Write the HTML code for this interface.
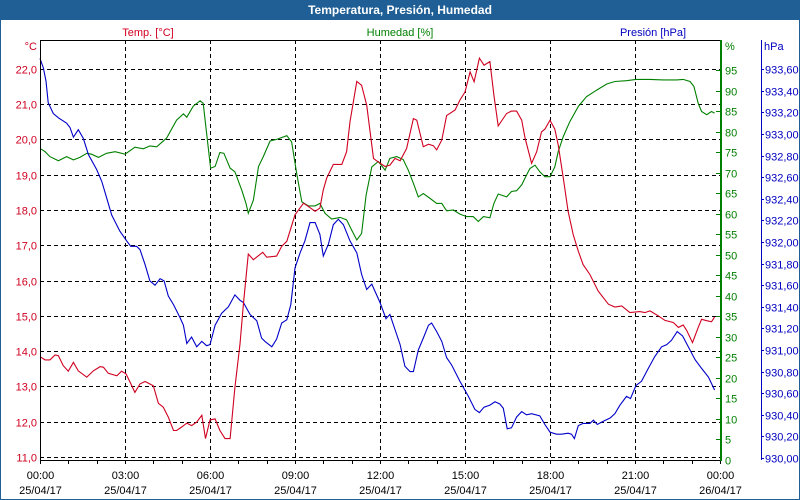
<!DOCTYPE html>
<html><head><meta charset="utf-8"><style>
html,body{margin:0;padding:0;background:#fff;}
#wrap{position:relative;width:800px;height:500px;overflow:hidden;font-family:"Liberation Sans",sans-serif;}
svg text{font-family:"Liberation Sans",sans-serif;font-size:11px;}
</style></head><body>
<div id="wrap">
<svg id="chart" width="800" height="500" viewBox="0 0 800 500">
<rect x="0" y="0" width="800" height="500" fill="#fff"/>
<rect x="0.5" y="0.5" width="799" height="499" fill="none" stroke="#1f5f95"/>
<rect x="0" y="0" width="800" height="20" fill="#1f5f95"/>
<text x="400" y="14" text-anchor="middle" fill="#fff" style="font-weight:bold;font-size:12px">Temperatura, Presión, Humedad</text>
<text x="148" y="36" text-anchor="middle" fill="#d00020">Temp. [°C]</text>
<text x="400" y="36" text-anchor="middle" fill="#008000">Humedad [%]</text>
<text x="653" y="36" text-anchor="middle" fill="#0000c0">Presión [hPa]</text>
<text x="37" y="50" text-anchor="end" fill="#d00020">°C</text>
<text x="725" y="50" fill="#008000">%</text>
<text x="764" y="50" fill="#0000c0">hPa</text>
<g id="grid"></g>
<g id="series"></g>
<g id="axes"></g>
</svg>
</div>
<script>
const tempT=[0,.18,.35,.53,.65,.82,1.0,1.18,1.35,1.65,1.88,2.12,2.24,2.41,2.71,2.88,3.04,3.18,3.35,3.53,3.71,4.0,4.18,4.35,4.53,4.71,4.82,5.0,5.18,5.35,5.53,5.71,5.84,6.0,6.18,6.35,6.53,6.71,6.76,6.88,7.06,7.18,7.35,7.53,7.86,8.0,8.35,8.53,8.71,9.0,9.3,9.47,9.71,9.88,10.0,10.12,10.35,10.65,10.82,10.94,11.18,11.35,11.53,11.77,11.88,12.18,12.35,12.53,12.71,12.94,13.18,13.3,13.53,13.71,13.88,14.0,14.18,14.35,14.65,14.82,15.0,15.18,15.32,15.51,15.67,15.88,16.02,16.17,16.47,16.64,16.82,17.0,17.12,17.35,17.53,17.7,17.82,18.0,18.17,18.29,18.47,18.64,18.82,19.0,19.17,19.41,19.7,20.06,20.29,20.53,20.82,21.17,21.35,21.53,21.82,22.06,22.35,22.53,22.7,22.82,23.03,23.23,23.35,23.53,23.7,23.81];
const tempV=[13.84,13.75,13.75,13.89,13.87,13.59,13.43,13.68,13.44,13.26,13.44,13.56,13.54,13.37,13.30,13.43,13.35,13.12,12.83,13.07,13.14,13.02,12.52,12.41,12.13,11.75,11.75,11.85,11.96,11.89,11.99,12.18,11.52,12.05,12.08,11.75,11.52,11.52,11.94,12.97,14.20,15.33,16.75,16.59,16.80,16.66,16.69,16.97,17.11,17.86,18.19,18.10,17.96,18.05,18.57,18.90,19.29,19.29,19.65,20.50,21.64,21.53,20.97,19.46,19.39,19.23,19.27,19.46,19.39,19.74,20.59,20.54,19.79,19.86,19.82,19.70,19.98,20.67,20.83,21.11,21.34,21.91,21.63,22.30,22.10,22.20,21.25,20.38,20.73,20.80,20.80,20.54,20.03,19.32,19.65,20.21,20.29,20.54,20.29,19.84,18.90,17.96,17.30,16.83,16.45,16.17,15.70,15.33,15.25,15.28,15.09,15.12,15.09,15.14,15.00,14.87,14.81,14.67,14.74,14.59,14.24,14.67,14.90,14.86,14.83,14.97];
const humT=[0,.18,.35,.65,.94,1.18,1.41,1.65,1.82,2.06,2.35,2.65,3.0,3.35,3.65,3.88,4.12,4.47,4.82,5.06,5.18,5.41,5.65,5.76,5.88,6.02,6.18,6.35,6.49,6.71,6.88,7.12,7.27,7.35,7.53,7.71,7.88,8.12,8.35,8.71,8.88,9.06,9.24,9.47,9.71,9.88,10.06,10.29,10.59,10.82,11.0,11.18,11.35,11.51,11.71,11.94,12.18,12.35,12.59,12.82,13.0,13.18,13.35,13.53,13.77,14.0,14.18,14.35,14.59,14.82,15.06,15.29,15.47,15.65,15.88,16.02,16.17,16.47,16.64,16.82,17.0,17.17,17.29,17.47,17.64,17.82,18.0,18.17,18.29,18.47,18.7,19.0,19.29,19.65,20.0,20.29,20.7,21.06,21.53,22.0,22.47,22.7,22.94,23.08,23.23,23.35,23.53,23.7,23.81];
const humV=[75.9,75.1,73.9,72.9,73.9,73.1,73.7,74.7,74.5,73.7,74.7,75.1,74.5,76.2,75.8,76.5,76.3,78.4,82.8,84.3,83.5,86.2,87.5,86.9,79.6,71.1,71.5,74.9,74.7,71.1,70.2,65.8,62.5,60.1,63.3,71.5,73.9,77.7,78.1,79.0,77.5,69.8,62.9,61.9,61.9,62.5,60.1,58.7,59.1,58.5,56.0,53.6,55.2,64.5,71.4,72.7,70.6,73.5,73.9,73.2,70.6,67.4,64.1,64.9,63.7,62.5,62.5,60.7,60.9,59.9,59.3,59.3,58.1,59.3,59.0,62.5,64.8,64.1,65.4,65.6,67.0,69.4,71.0,71.8,70.2,69.0,69.0,71.4,75.1,78.8,82.4,86.1,88.5,90.1,91.6,92.2,92.4,92.7,92.7,92.6,92.6,92.7,92.2,91.0,86.9,84.9,84.1,84.9,84.5];
const presT=[0,.12,.21,.29,.47,.65,.94,1.06,1.18,1.35,1.53,1.71,2.0,2.18,2.35,2.53,2.82,3.06,3.2,3.41,3.53,3.71,3.88,4.06,4.24,4.38,4.53,4.71,4.94,5.06,5.18,5.35,5.53,5.71,5.88,6.0,6.18,6.41,6.65,6.88,7.06,7.18,7.41,7.65,7.82,7.94,8.18,8.35,8.53,8.71,8.85,9.0,9.18,9.35,9.53,9.71,9.88,10.0,10.18,10.35,10.53,10.71,10.94,11.18,11.35,11.53,11.71,12.0,12.21,12.35,12.53,12.71,12.88,13.06,13.18,13.35,13.53,13.71,13.82,14.0,14.18,14.35,14.53,14.82,15.12,15.35,15.51,15.67,15.88,16.06,16.23,16.35,16.49,16.64,16.82,17.0,17.17,17.35,17.64,17.82,18.0,18.23,18.41,18.64,18.76,18.86,19.0,19.17,19.41,19.53,19.67,19.88,20.12,20.29,20.47,20.7,20.84,21.03,21.23,21.47,21.7,21.94,22.12,22.29,22.49,22.68,22.88,23.12,23.35,23.59,23.81];
const presV=[933.70,933.61,933.49,933.29,933.19,933.15,933.10,933.06,932.97,933.04,932.96,932.81,932.67,932.56,932.41,932.25,932.10,932.01,931.96,931.96,931.93,931.79,931.64,931.60,931.66,931.64,931.50,931.42,931.30,931.23,931.06,931.12,931.03,931.08,931.04,931.05,931.23,931.34,931.40,931.51,931.46,931.44,931.33,931.27,931.11,931.08,931.03,931.10,931.25,931.28,931.42,931.76,931.90,932.01,932.18,932.18,932.07,931.87,931.98,932.16,932.21,932.16,932.01,931.90,931.70,931.56,931.61,931.44,931.29,931.33,931.19,931.05,930.85,930.80,930.80,931.00,931.11,931.23,931.25,931.17,931.08,930.93,930.86,930.71,930.57,930.45,930.42,930.47,930.49,930.52,930.50,930.46,930.27,930.28,930.38,930.43,930.40,930.41,930.39,930.31,930.24,930.22,930.22,930.23,930.22,930.18,930.30,930.32,930.32,930.35,930.31,930.34,930.37,930.41,930.49,930.57,930.55,930.67,930.71,930.83,930.94,931.03,931.05,931.09,931.17,931.13,931.03,930.91,930.83,930.75,930.63];
const tempTicks=["11,0","12,0","13,0","14,0","15,0","16,0","17,0","18,0","19,0","20,0","21,0","22,0"];
const humTicks=[0,5,10,15,20,25,30,35,40,45,50,55,60,65,70,75,80,85,90,95];
const presTicks=["930,00","930,20","930,40","930,60","930,80","931,00","931,20","931,40","931,60","931,80","932,00","932,20","932,40","932,60","932,80","933,00","933,20","933,40","933,60"];
const timeLabels=["00:00","03:00","06:00","09:00","12:00","15:00","18:00","21:00","00:00"];
const dateLabels=["25/04/17","25/04/17","25/04/17","25/04/17","25/04/17","25/04/17","25/04/17","25/04/17","26/04/17"];

const L=40,R=720,T=40,B=460;
const xS=h=>L+h*(R-L)/24;
const yT=v=>457-(v-11)*35.3;
const yH=v=>460-v*(390/95);
const yP=v=>458-(v-930)*108;
const NS="http://www.w3.org/2000/svg";
function mk(tag,attrs,parent,txt){const e=document.createElementNS(NS,tag);for(const k in attrs)e.setAttribute(k,attrs[k]);if(txt!==undefined)e.textContent=txt;parent.appendChild(e);return e;}
const grid=document.getElementById('grid'),ser=document.getElementById('series'),ax=document.getElementById('axes');

tempTicks.forEach((lab,i)=>{
  const y=Math.round(yT(11+i))+0.5;
  const g=mk('line',{x1:L,x2:R,y1:y,y2:y,stroke:'#000','stroke-dasharray':'4,3'},grid);
  
  
  const t=mk('text',{x:37,y:y+4,'text-anchor':'end',fill:'#d00020'},ax,lab);
  
  
});
timeLabels.forEach((lab,i)=>{
  const x=Math.round(xS(i*3))+0.5;
  if(i>0&&i<8){const g=mk('line',{x1:x,x2:x,y1:T,y2:B,stroke:'#000','stroke-dasharray':'4,3'},grid);
    
    }
  const t=mk('text',{x:x,y:479,'text-anchor':'middle',fill:'#000'},ax,lab);
  
  
  const d=mk('text',{x:x,y:494,'text-anchor':'middle',fill:'#000'},ax,dateLabels[i]);
  
  
});
for(let h=0;h<=24;h++){const x=Math.round(xS(h))+0.5;
  const tk=mk('line',{x1:x,x2:x,y1:B,y2:B+4,stroke:'#000'},ax);
  
  }
humTicks.forEach(v=>{const y=Math.round(yH(v))+0.5;
  const tk=mk('line',{x1:R-4,x2:R+2,y1:y,y2:y,stroke:'#008000'},ax);
  
  
  const t=mk('text',{x:725,y:y+4,fill:'#008000'},ax,String(v));
  
  });
presTicks.forEach((lab,i)=>{const y=Math.round(yP(930+i*0.2))+0.5;
  const tk=mk('line',{x1:761,x2:764,y1:y,y2:y,stroke:'#0000c0'},ax);
  
  
  const t=mk('text',{x:765,y:y+4,fill:'#0000c0'},ax,lab);
  
  });

function path(ts,vs,ys,color,name){
  const d=ts.map((t,i)=>(i?'L':'M')+xS(t).toFixed(1)+','+ys(vs[i]).toFixed(1)).join('');
  const p=mk('path',{d:d,fill:'none',stroke:color,'stroke-width':1.1},ser);
  
  
}
path(humT,humV,yH,'#008000','humidity-line');
path(presT,presV,yP,'#0000c8','pressure-line');
path(tempT,tempV,yT,'#d00020','temperature-line');

const box=mk('path',{d:`M${L+.5},${B+.5}V${T+.5}H${R}`,fill:'none',stroke:'#000'},ax);


const xa=mk('line',{x1:L,x2:R,y1:B+.5,y2:B+.5,stroke:'#000'},ax);


const ha=mk('line',{x1:R+1,x2:R+1,y1:T,y2:B+1,stroke:'#008000','stroke-width':2},ax);


const pa=mk('line',{x1:761.5,x2:761.5,y1:T,y2:B,stroke:'#0000c0'},ax);


</script>
</body></html>
